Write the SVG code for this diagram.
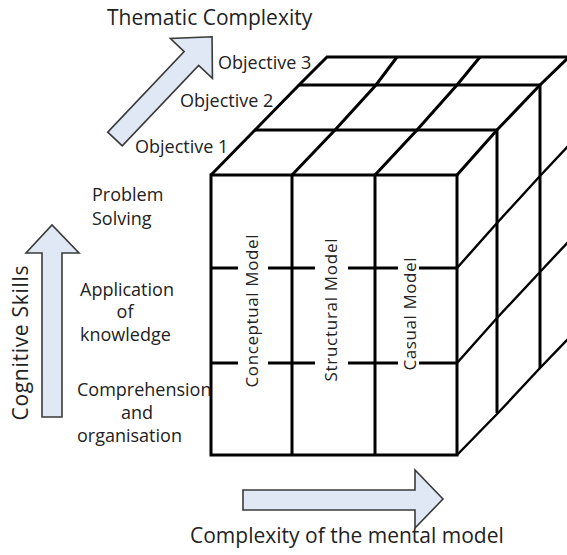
<svg xmlns="http://www.w3.org/2000/svg" width="567" height="555" viewBox="0 0 567 555">
  <style>
    .edge{stroke:#000;stroke-width:3;fill:none;stroke-linejoin:miter}
    .thin{stroke:#000;stroke-width:2.4;fill:none}
    .arrow{fill:#dfe8f4;stroke:#3a3a3a;stroke-width:1.6;stroke-linejoin:miter}
    text{font-family:"Open Sans","Noto Sans","DejaVu Sans",sans-serif;fill:#222}
    .lbl{font-size:18px}
    .title{font-size:21px}
    .model{font-size:17px;text-anchor:middle}
    .mid{text-anchor:middle}
  </style>
  <rect width="567" height="555" fill="#fff"/>

  <!-- 3x3x3 cube -->
  <g id="cube">
    <g id="top-face">
      <path class="edge" d="M211,175 L255,130 L299,85 L327,57 H569"/>
      <path class="edge" d="M255,130 H497 M299,85 H540"/>
      <path class="edge" d="M292,175 L335,130 L376,85 L397,57 M375,175 L417,130 L457,85 L480,57 M457,175 L497,130 L540,85 L569,57"/>
    </g>
    <g id="right-face">
      <path class="edge" d="M497,130 V413 M540,85 V368"/>
      <path class="thin" d="M457,268 L497,223 L540,176 L569,145 M457,363 L497,318 L540,272 L569,241 M457,455 L498,413 L540,368 L569,338"/>
    </g>
    <g id="front-face">
      <path class="edge" d="M211,175 H457 V455 H211 Z M292,175 V455 M375,175 V455"/>
      <path class="edge" d="M211,268 H238 M268,268 H315 M348,268 H398 M419,268 H457 M211,363 H238 M268,363 H315 M348,363 H398 M419,363 H457"/>
    </g>
    <g id="model-labels">
      <text class="model" transform="translate(258,311) rotate(-90)" textLength="153">Conceptual Model</text>
      <text class="model" transform="translate(337,310) rotate(-90)" textLength="143">Structural Model</text>
      <text class="model" transform="translate(416,314) rotate(-90)" textLength="113">Casual Model</text>
    </g>
  </g>

  <!-- axis arrows -->
  <g id="connectors">
    <polygon id="arrow-thematic" class="arrow" transform="translate(115,139) rotate(-46.5)" points="0,-10 111,-10 111,-29 141,0 111,29 111,10 0,10"/>
    <polygon id="arrow-cognitive" class="arrow" points="42,417 62,417 62,253 79,253 52,225 26,253 42,253"/>
    <polygon id="arrow-mental" class="arrow" points="243,490 415,490 415,470 443,499 415,528 415,510 243,510"/>
  </g>

  <g id="axis-thematic">
    <text class="title" x="107" y="25">Thematic Complexity</text>
    <text class="lbl" x="218" y="69">Objective 3</text>
    <text class="lbl" x="180" y="107">Objective 2</text>
    <text class="lbl" x="135" y="153">Objective 1</text>
  </g>

  <g id="axis-cognitive">
    <text class="title mid" transform="translate(28,343) rotate(-90)" textLength="155">Cognitive Skills</text>
    <text class="lbl" x="92" y="201">Problem</text>
    <text class="lbl" x="92" y="225">Solving</text>
    <text class="lbl" x="80" y="296">Application</text>
    <text class="lbl mid" x="125" y="318">of</text>
    <text class="lbl" x="80" y="341">knowledge</text>
    <text class="lbl" x="77" y="396">Comprehension</text>
    <text class="lbl mid" x="137" y="419">and</text>
    <text class="lbl" x="77" y="442">organisation</text>
  </g>

  <g id="axis-mental">
    <text class="title" x="190" y="543">Complexity of the mental model</text>
  </g>
</svg>
